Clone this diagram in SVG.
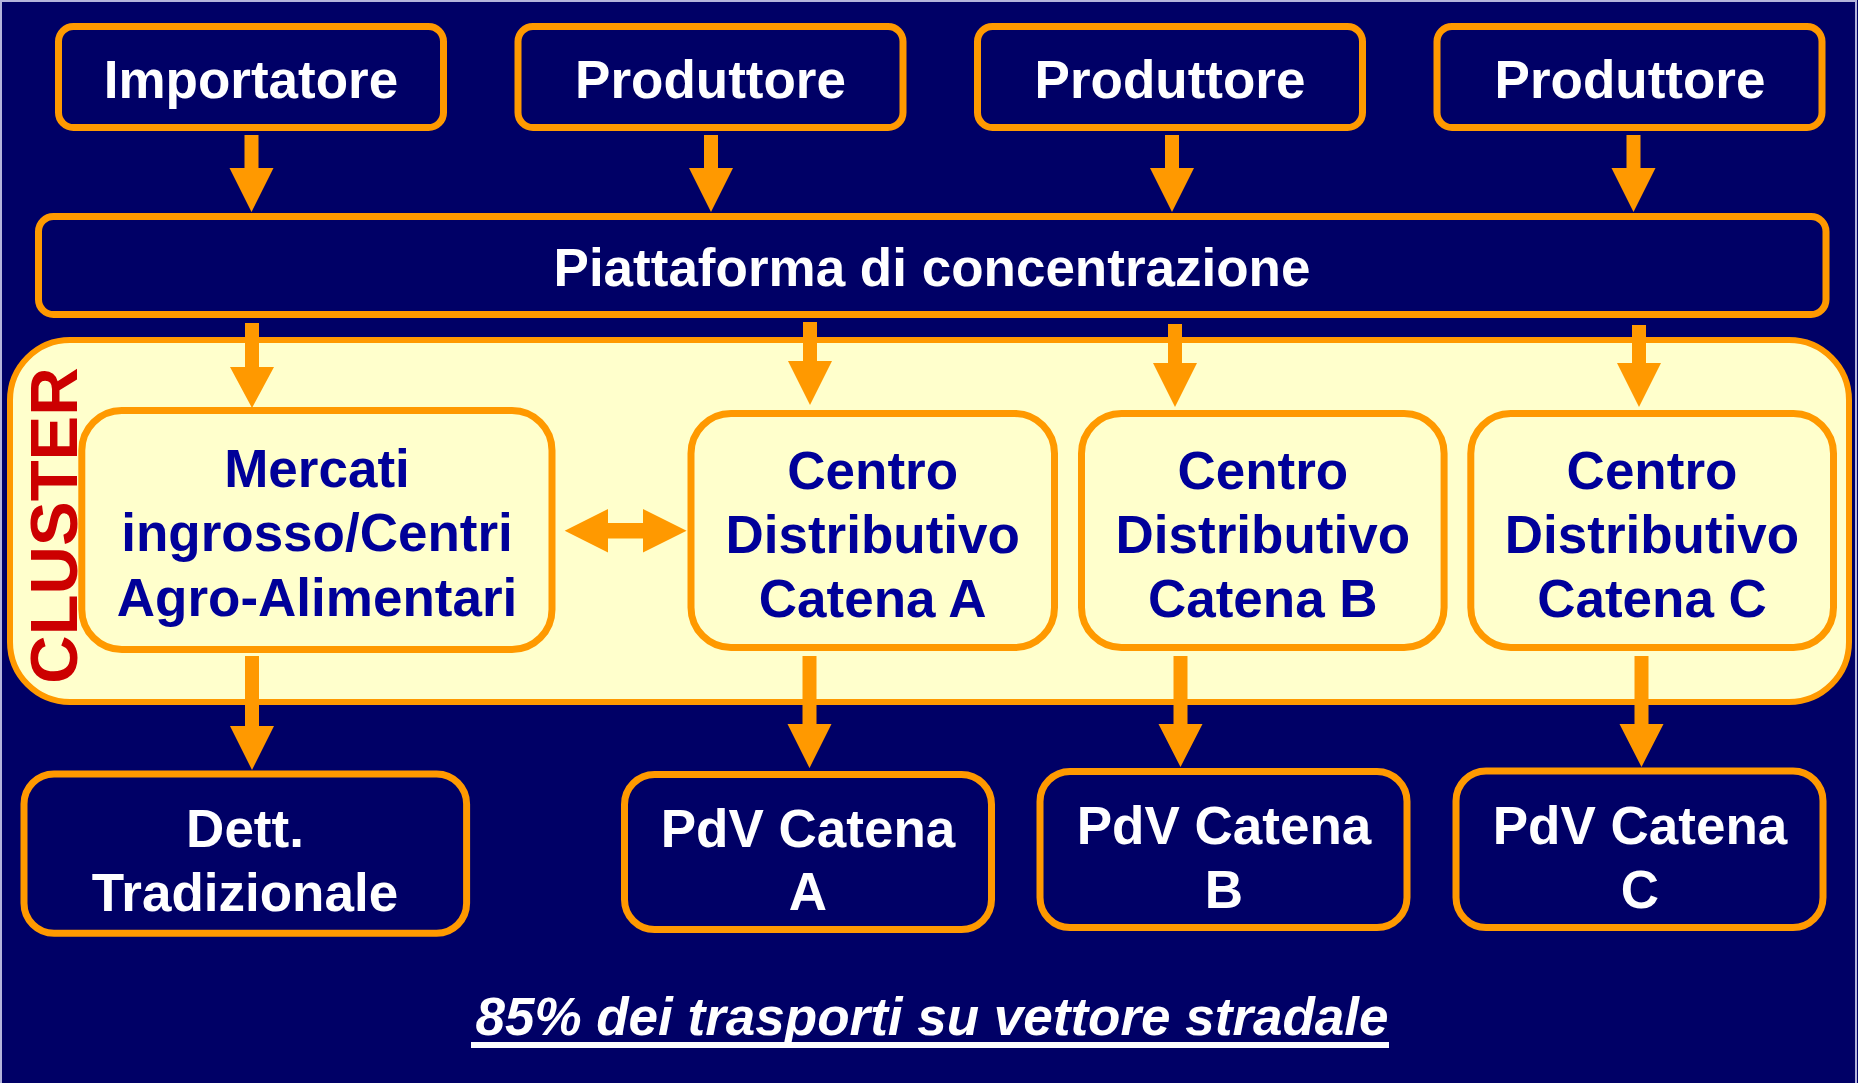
<svg xmlns="http://www.w3.org/2000/svg" width="1858" height="1083" viewBox="0 0 1858 1083">
  <style>
    .bg { fill: #000066; }
    .frame { fill: none; stroke: #B4B4DC; stroke-width: 2; }
    .dark { fill: #000066; stroke: #FF9900; stroke-width: 7; }
    .light { fill: #FFFFCC; stroke: #FF9900; stroke-width: 7; }
    .cluster { fill: #FFFFCC; stroke: #FF9900; stroke-width: 6; }
    .arrow { fill: #FF9900; stroke: none; }
    text { font-family: "Liberation Sans", Arial, sans-serif; font-weight: bold; font-size: 53px; text-anchor: middle; }
    .w { fill: #FFFFFF; }
    .b { fill: #000099; }
    .red { fill: #CC0000; font-size: 67px; }
    .note { fill: #FFFFFF; font-style: italic; }
    .uline { fill: #FFFFFF; }
  </style>
  <rect class="bg" x="0" y="0" width="1858" height="1083"/>
  <path class="frame" d="M1,1083 V1 H1856 V1083"/>

  <g id="cluster">
    <rect class="cluster" x="10" y="340" width="1839" height="362" rx="60" ry="60"/>
    <text class="red" transform="translate(76.5,525.5) rotate(-90)">CLUSTER</text>
  </g>

  <g id="importatore">
    <rect class="dark" x="58.5" y="26.5" width="385" height="101" rx="15"/>
    <text class="w" x="251" y="98">Importatore</text>
  </g>
  <g id="produttore1">
    <rect class="dark" x="518" y="26.5" width="385" height="101" rx="15"/>
    <text class="w" x="710.5" y="98">Produttore</text>
  </g>
  <g id="produttore2">
    <rect class="dark" x="977.5" y="26.5" width="385" height="101" rx="15"/>
    <text class="w" x="1170" y="98">Produttore</text>
  </g>
  <g id="produttore3">
    <rect class="dark" x="1437" y="26.5" width="385" height="101" rx="15"/>
    <text class="w" x="1630" y="98">Produttore</text>
  </g>

  <g id="piattaforma">
    <rect class="dark" x="38.5" y="216.5" width="1787.5" height="98" rx="15"/>
    <text class="w" x="932" y="286">Piattaforma di concentrazione</text>
  </g>

  <g id="mercati">
    <rect class="light" x="81.8" y="410.5" width="470.2" height="239" rx="40"/>
    <text class="b" x="317" y="487">Mercati</text>
    <text class="b" x="317" y="551">ingrosso/Centri</text>
    <text class="b" x="317" y="616">Agro-Alimentari</text>
  </g>
  <g id="centro-a">
    <rect class="light" x="691" y="413.5" width="363.5" height="234" rx="40"/>
    <text class="b" x="872.7" y="489">Centro</text>
    <text class="b" x="872.7" y="553">Distributivo</text>
    <text class="b" x="872.7" y="617">Catena A</text>
  </g>
  <g id="centro-b">
    <rect class="light" x="1081.5" y="413.5" width="362.6" height="234" rx="40"/>
    <text class="b" x="1262.8" y="489">Centro</text>
    <text class="b" x="1262.8" y="553">Distributivo</text>
    <text class="b" x="1262.8" y="617">Catena B</text>
  </g>
  <g id="centro-c">
    <rect class="light" x="1470.8" y="413.5" width="362.7" height="234" rx="40"/>
    <text class="b" x="1652" y="489">Centro</text>
    <text class="b" x="1652" y="553">Distributivo</text>
    <text class="b" x="1652" y="617">Catena C</text>
  </g>

  <g id="dettaglio">
    <rect class="dark" x="24" y="774" width="442.6" height="159.3" rx="30"/>
    <text class="w" x="245" y="847">Dett.</text>
    <text class="w" x="245" y="911">Tradizionale</text>
  </g>
  <g id="pdv-a">
    <rect class="dark" x="624.5" y="774.5" width="367" height="155" rx="30"/>
    <text class="w" x="808" y="846.5">PdV Catena</text>
    <text class="w" x="808" y="910">A</text>
  </g>
  <g id="pdv-b">
    <rect class="dark" x="1040" y="771.5" width="367" height="156" rx="30"/>
    <text class="w" x="1224" y="844">PdV Catena</text>
    <text class="w" x="1224" y="908">B</text>
  </g>
  <g id="pdv-c">
    <rect class="dark" x="1456" y="771" width="367" height="156.5" rx="30"/>
    <text class="w" x="1640" y="844">PdV Catena</text>
    <text class="w" x="1640" y="908">C</text>
  </g>

  <g id="connectors">
    <polygon class="arrow" points="244.5,135 258.5,135 258.5,168 273.5,168 251.5,212 229.5,168 244.5,168"/>
    <polygon class="arrow" points="704,135 718,135 718,168 733,168 711,212 689,168 704,168"/>
    <polygon class="arrow" points="1165,135 1179,135 1179,168 1194,168 1172,212 1150,168 1165,168"/>
    <polygon class="arrow" points="1626.5,135 1640.5,135 1640.5,168 1655.5,168 1633.5,212 1611.5,168 1626.5,168"/>
    <polygon class="arrow" points="245,323 259,323 259,367 274,367 252,408 230,367 245,367"/>
    <polygon class="arrow" points="803,322 817,322 817,361 832,361 810,405 788,361 803,361"/>
    <polygon class="arrow" points="1168,324 1182,324 1182,363 1197,363 1175,407 1153,363 1168,363"/>
    <polygon class="arrow" points="1632,325 1646,325 1646,363 1661,363 1639,407 1617,363 1632,363"/>
    <polygon class="arrow" points="564.7,530.7 608,509 608,523 643,523 643,509 686.6,530.7 643,552.4 643,538.4 608,538.4 608,552.4"/>
    <polygon class="arrow" points="245,656 259,656 259,726 274,726 252,770 230,726 245,726"/>
    <polygon class="arrow" points="802.5,656 816.5,656 816.5,724 831.5,724 809.5,768 787.5,724 802.5,724"/>
    <polygon class="arrow" points="1173.5,656 1187.5,656 1187.5,724 1202.5,724 1180.5,767 1158.5,724 1173.5,724"/>
    <polygon class="arrow" points="1634.5,656 1648.5,656 1648.5,724 1663.5,724 1641.5,767 1619.5,724 1634.5,724"/>
  </g>

  <g id="note">
    <text class="note" x="932" y="1035">85% dei trasporti su vettore stradale</text>
    <rect class="uline" x="471" y="1042" width="918" height="6"/>
  </g>
</svg>
